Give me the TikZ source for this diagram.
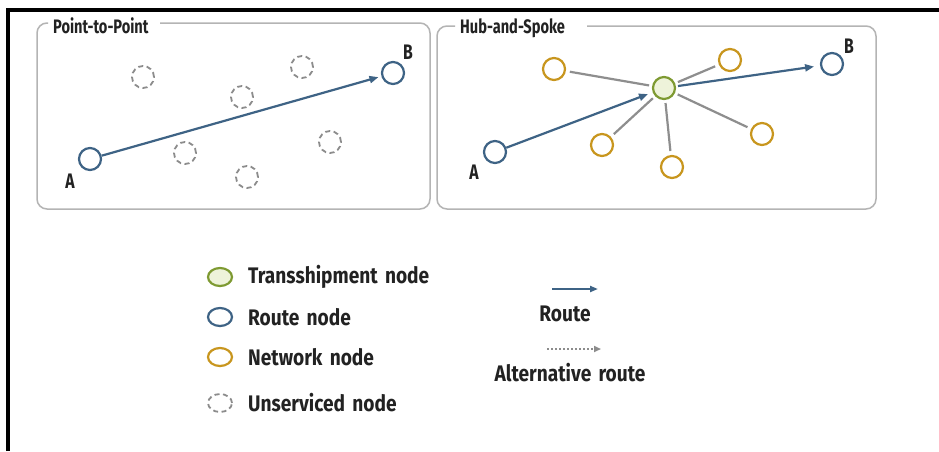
\documentclass[tikz,border=0pt]{standalone}
\usepackage{fontspec}
\setmainfont{Fira Sans}[FakeStretch=0.75]
\newfontfamily\legfont{Fira Sans}[FakeStretch=0.85, WordSpace=1.6]
\usetikzlibrary{shapes.geometric,arrows.meta}
\definecolor{routeblue}{HTML}{3E6385}
\definecolor{netorange}{HTML}{C8961E}
\definecolor{hubgreen}{HTML}{7E9A32}
\definecolor{hubfill}{HTML}{EEF3DA}
\definecolor{panelgray}{HTML}{B4B4B4}
\definecolor{dashgray}{HTML}{8C8C8C}
\definecolor{spokegray}{HTML}{8E8E8E}
\definecolor{txt}{HTML}{222222}
\tikzset{
  x=1pt,y=-1pt,
  every node/.style={font=\bfseries, text=txt},
  circ/.style={ellipse, minimum width=22pt, minimum height=22pt, inner sep=0pt, line width=2.2pt},
  routenode/.style={circ, draw=routeblue},
  netnode/.style={circ, draw=netorange},
  hubnode/.style={circ, draw=hubgreen, fill=hubfill},
  unsnode/.style={circ, draw=dashgray, line width=1.8pt, dash pattern=on 5pt off 3.5pt},
  legcirc/.style={ellipse, minimum width=24pt, minimum height=18pt, inner sep=0pt},
  panel/.style={draw=panelgray, line width=1.5pt, rounded corners=10pt},
  routearrow/.style={draw=routeblue, line width=2.2pt, -{Triangle[length=9pt,width=7pt]}},
  altarrow/.style={draw=dashgray, line width=1.6pt, dash pattern=on 2pt off 2pt, -{Triangle[length=7pt,width=6pt]}},
  spoke/.style={draw=spokegray, line width=2.2pt, shorten <=3pt, shorten >=4pt},
  title/.style={font=\bfseries\fontsize{19.5}{19.5}\selectfont, anchor=west, inner sep=0pt},
  lbl/.style={font=\bfseries\fontsize{21}{21}\selectfont, inner sep=0pt},
  legtext/.style={font=\legfont\bfseries\fontsize{22.5}{22.5}\selectfont, inner sep=0pt},
}
\begin{document}
\begin{tikzpicture}
\useasboundingbox (0,0) rectangle (939,451);
\fill[white] (0,0) rectangle (939,451);
% frame
\draw[line width=4pt] (8,451) -- (8,10) -- (939,10);
% panels
\draw[panel] (160,23) -- (430,23) -- (430,209) -- (37,209) -- (37,23) -- (48,23);
\draw[panel] (587,26) -- (876,26) -- (876,209) -- (437,209) -- (437,26) -- (455,26);
\node[title] (t1) at (53,26) {Point-to-Point};
\node[title] (t2) at (460,28) {Hub-and-Spoke};
% point to point
\node[routenode] (pA) at (90,159) {};
\node[routenode] (pB) at (393,73) {};
\node[lbl] (pAl) at (70,181) {A};
\node[lbl] (pBl) at (408,52) {B};
\node[unsnode] (u1) at (143,77) {};
\node[unsnode] (u2) at (302,67) {};
\node[unsnode] (u3) at (242,97) {};
\node[unsnode] (u4) at (185,153) {};
\node[unsnode] (u5) at (330,142) {};
\node[unsnode] (u6) at (247,177) {};
\draw[routearrow, shorten >=3pt] (pA) -- (pB);
% hub and spoke
\node[routenode] (hA) at (495,152) {};
\node[routenode] (hB) at (832,64) {};
\node[lbl] (hAl) at (474,172) {A};
\node[lbl] (hBl) at (849,46) {B};
\node[hubnode] (hub) at (664,88) {};
\node[netnode] (n1) at (554,69) {};
\node[netnode] (n2) at (730,60) {};
\node[netnode] (n3) at (602,145) {};
\node[netnode] (n4) at (672,167) {};
\node[netnode] (n5) at (762,134) {};
\foreach \n in {n1,n2,n3,n4,n5} \draw[spoke] (hub) -- (\n);
\draw[routearrow, shorten >=5pt] (hA) -- (hub);
\draw[routearrow, shorten <=2pt, shorten >=6pt] (hub) -- (hB);
% legend
\node[legcirc, draw=hubgreen, fill=hubfill, line width=2.2pt] (L1) at (220,277) {};
\node[legcirc, draw=routeblue, line width=2.2pt] (L2) at (220,317) {};
\node[legcirc, draw=netorange, line width=2.2pt] (L3) at (220,357) {};
\node[legcirc, draw=dashgray, line width=1.8pt, dash pattern=on 5pt off 3.5pt] (L4) at (220,403) {};
\node[legtext, anchor=west] (T1) at (248,277) {Transshipment node};
\node[legtext, anchor=west] (T2) at (248,317) {Route node};
\node[legtext, anchor=west] (T3) at (248,357) {Network node};
\node[legtext, anchor=west] (T4) at (248,403) {Unserviced node};
\coordinate (r1) at (552,289);
\coordinate (r2) at (598,289);
\draw[routearrow, line width=2pt, -{Triangle[length=8pt,width=6pt]}] (r1) -- (r2);
\node[legtext] (rl) at (565,314) {Route};
\coordinate (a1) at (547,349);
\coordinate (a2) at (601,349);
\draw[altarrow] (a1) -- (a2);
\node[legtext] (al) at (570,373) {Alternative route};
\end{tikzpicture}
\end{document}
